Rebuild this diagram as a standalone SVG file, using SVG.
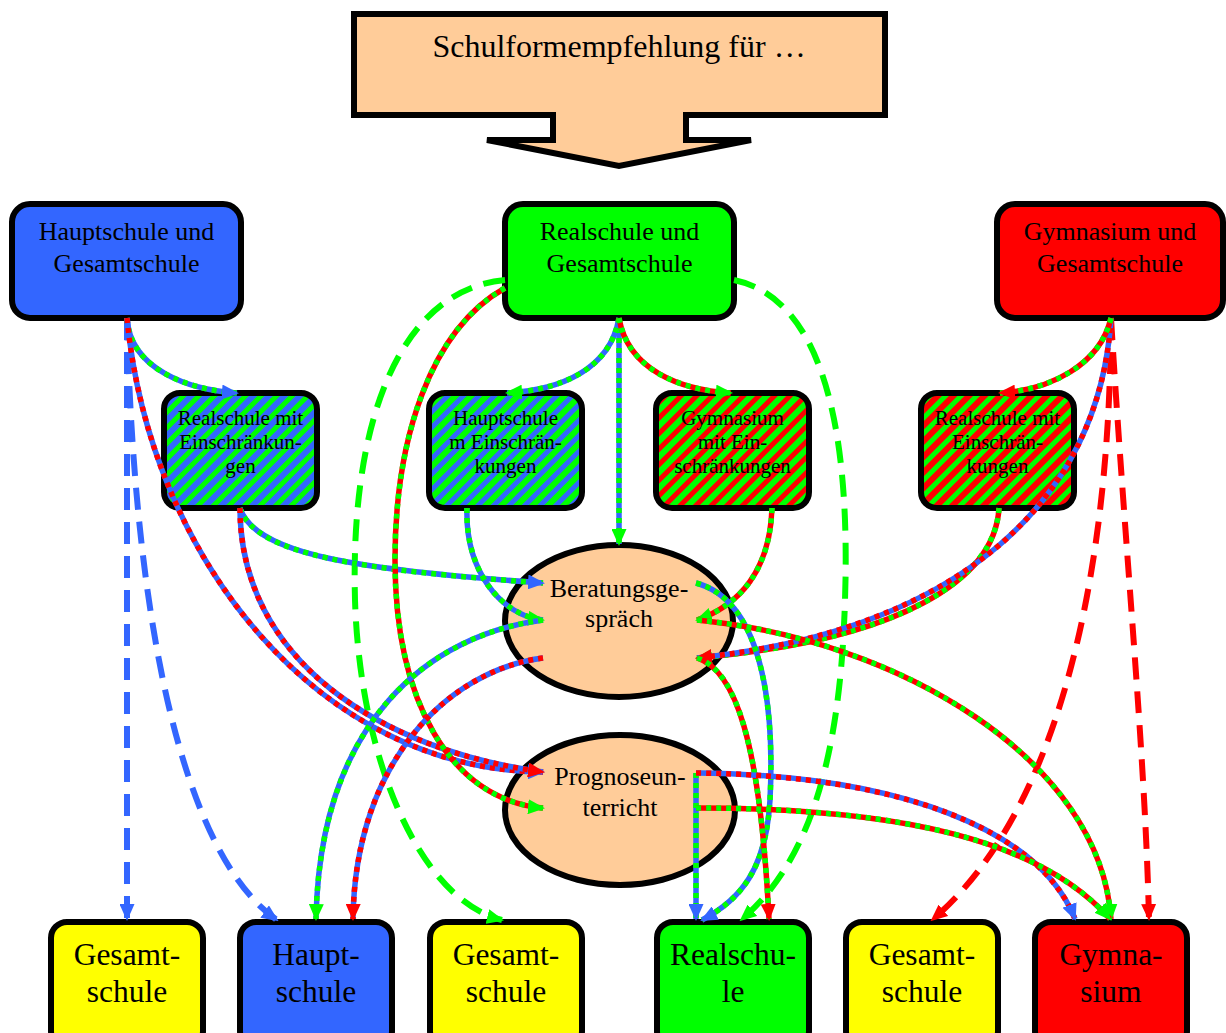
<svg xmlns="http://www.w3.org/2000/svg" width="1226" height="1033" viewBox="0 0 1226 1033">
<style>
.nd{stroke:#000;stroke-width:6}
text{font-family:"Liberation Serif","Times New Roman",serif;text-anchor:middle;fill:#000}
.t26{font-size:26px}
.t21{font-size:21px}
.t31{font-size:31.5px}
.tb{font-size:32px}
#connectors path{fill:none;stroke-width:5.5;stroke-linecap:butt}
#connectors .dsh{stroke-width:6;stroke-dasharray:22 12}
#connectors .ov{stroke-dasharray:5 5}
.sB{stroke:#3366FF}
.sG{stroke:#00FF00}
.sR{stroke:#FF0000}
.mB{marker-end:url(#aB)}
.mG{marker-end:url(#aG)}
.mR{marker-end:url(#aR)}
</style>
<defs>
<marker id="aB" markerUnits="userSpaceOnUse" markerWidth="17" markerHeight="15" refX="15" refY="7.5" orient="auto"><path d="M0,0 L17,7.5 L0,15 Z" fill="#3366FF"/></marker>
<marker id="aG" markerUnits="userSpaceOnUse" markerWidth="17" markerHeight="15" refX="15" refY="7.5" orient="auto"><path d="M0,0 L17,7.5 L0,15 Z" fill="#00FF00"/></marker>
<marker id="aR" markerUnits="userSpaceOnUse" markerWidth="17" markerHeight="15" refX="15" refY="7.5" orient="auto"><path d="M0,0 L17,7.5 L0,15 Z" fill="#FF0000"/></marker>
<pattern id="hBG" width="11" height="11" patternUnits="userSpaceOnUse" patternTransform="rotate(45)"><rect width="11" height="11" fill="#3366FF"/><rect width="5" height="11" fill="#00FF00"/></pattern>
<pattern id="hGB" width="11" height="11" patternUnits="userSpaceOnUse" patternTransform="rotate(45)"><rect width="11" height="11" fill="#00FF00"/><rect width="5" height="11" fill="#3366FF"/></pattern>
<pattern id="hGR" width="11" height="11" patternUnits="userSpaceOnUse" patternTransform="rotate(45)"><rect width="11" height="11" fill="#00FF00"/><rect width="5" height="11" fill="#FF0000"/></pattern>
<pattern id="hRG" width="11" height="11" patternUnits="userSpaceOnUse" patternTransform="rotate(45)"><rect width="11" height="11" fill="#FF0000"/><rect width="5" height="11" fill="#00FF00"/></pattern>
</defs>

<g id="title">
<path class="nd" d="M354,14 H885 V115 H686 V140 H751 L619,166 L487,140 H553 V115 H354 Z" fill="#FFCC99"/>
<text class="tb" x="619" y="57">Schulformempfehlung für …</text>
</g>

<g id="n-hg"><rect class="nd" x="12" y="204" width="229" height="114" rx="18" fill="#3366FF"/><text class="t26" x="126.5" y="240">Hauptschule und</text><text class="t26" x="126.5" y="272">Gesamtschule</text></g>
<g id="n-rg"><rect class="nd" x="505" y="204" width="229" height="114" rx="18" fill="#00FF00"/><text class="t26" x="619.5" y="240">Realschule und</text><text class="t26" x="619.5" y="272">Gesamtschule</text></g>
<g id="n-gg"><rect class="nd" x="997" y="204" width="226" height="114" rx="18" fill="#FF0000"/><text class="t26" x="1110" y="240">Gymnasium und</text><text class="t26" x="1110" y="272">Gesamtschule</text></g>

<g id="n-rme1"><rect class="nd" x="164" y="393" width="153" height="115" rx="16" fill="url(#hBG)"/><text class="t21" x="240.5" y="425">Realschule mit</text><text class="t21" x="240.5" y="449">Einschränkun-</text><text class="t21" x="240.5" y="473">gen</text></g>
<g id="n-hme"><rect class="nd" x="429" y="393" width="153" height="115" rx="16" fill="url(#hGB)"/><text class="t21" x="505.5" y="425">Hauptschule</text><text class="t21" x="505.5" y="449">m Einschrän-</text><text class="t21" x="505.5" y="473">kungen</text></g>
<g id="n-gme"><rect class="nd" x="656" y="393" width="153" height="115" rx="16" fill="url(#hGR)"/><text class="t21" x="732.5" y="425">Gymnasium</text><text class="t21" x="732.5" y="449">mit Ein-</text><text class="t21" x="732.5" y="473">schränkungen</text></g>
<g id="n-rme2"><rect class="nd" x="921" y="393" width="153" height="115" rx="16" fill="url(#hRG)"/><text class="t21" x="997.5" y="425">Realschule mit</text><text class="t21" x="997.5" y="449">Einschrän-</text><text class="t21" x="997.5" y="473">kungen</text></g>

<g id="n-beratung"><ellipse class="nd" cx="619" cy="621" rx="114" ry="76" fill="#FFCC99"/><text class="t26" x="619" y="597">Beratungsge-</text><text class="t26" x="619" y="627">spräch</text></g>
<g id="n-prognose"><ellipse class="nd" cx="620" cy="810" rx="115" ry="75" fill="#FFCC99"/><text class="t26" x="620" y="785">Prognoseun-</text><text class="t26" x="620" y="816">terricht</text></g>

<g id="n-ges1"><rect class="nd" x="51" y="922" width="152" height="125" rx="16" fill="#FFFF00"/><text class="t31" x="127" y="965">Gesamt-</text><text class="t31" x="127" y="1002">schule</text></g>
<g id="n-haupt"><rect class="nd" x="240" y="922" width="152" height="125" rx="16" fill="#3366FF"/><text class="t31" x="316" y="965">Haupt-</text><text class="t31" x="316" y="1002">schule</text></g>
<g id="n-ges2"><rect class="nd" x="430" y="922" width="152" height="125" rx="16" fill="#FFFF00"/><text class="t31" x="506" y="965">Gesamt-</text><text class="t31" x="506" y="1002">schule</text></g>
<g id="n-real"><rect class="nd" x="657" y="922" width="152" height="125" rx="16" fill="#00FF00"/><text class="t31" x="733" y="965">Realschu-</text><text class="t31" x="733" y="1002">le</text></g>
<g id="n-ges3"><rect class="nd" x="846" y="922" width="152" height="125" rx="16" fill="#FFFF00"/><text class="t31" x="922" y="965">Gesamt-</text><text class="t31" x="922" y="1002">schule</text></g>
<g id="n-gym"><rect class="nd" x="1035" y="922" width="152" height="125" rx="16" fill="#FF0000"/><text class="t31" x="1111" y="965">Gymna-</text><text class="t31" x="1111" y="1002">sium</text></g>

<g id="connectors">
<path class="dsh sB mB" d="M127,318 V919"/>
<path class="dsh sB mB" d="M127,318 C135,650 190,860 277,920"/>
<path class="dsh sG mG" d="M505,280 C400,290 350,420 355,600 C360,760 420,900 502,920"/>
<path class="dsh sG mG" d="M734,280 C830,300 850,450 845,600 C840,780 800,870 741,920"/>
<path class="dsh sR mR" d="M1111,318 C1110,600 1050,820 932,920"/>
<path class="dsh sR mR" d="M1111,318 C1125,550 1145,750 1149,919"/>

<path class="sB" d="M127,318 C130,370 190,390 237,393"/><path class="sG ov mB" d="M127,318 C130,370 190,390 237,393"/>
<path class="sB" d="M127,318 C150,560 320,770 543,772"/><path class="sR ov mB" d="M127,318 C150,560 320,770 543,772"/>
<path class="sB" d="M240,508 C255,555 360,570 543,583"/><path class="sG ov mB" d="M240,508 C255,555 360,570 543,583"/>
<path class="sB" d="M240,508 C240,660 380,750 543,772"/><path class="sR ov mR" d="M240,508 C240,660 380,750 543,772"/>

<path class="sB" d="M619,318 V544"/><path class="sG ov mG" d="M619,318 V544"/>
<path class="sB" d="M619,318 C610,370 560,390 507,393"/><path class="sG ov mG" d="M619,318 C610,370 560,390 507,393"/>
<path class="sR" d="M619,318 C628,370 680,390 731,393"/><path class="sG ov mG" d="M619,318 C628,370 680,390 731,393"/>
<path class="sR" d="M505,288 C430,330 395,440 395,560 C395,700 450,800 543,808"/><path class="sG ov mG" d="M505,288 C430,330 395,440 395,560 C395,700 450,800 543,808"/>

<path class="sB" d="M467,508 C465,570 500,615 543,620"/><path class="sG ov mG" d="M467,508 C465,570 500,615 543,620"/>
<path class="sR" d="M772,508 C770,570 740,605 697,620"/><path class="sG ov mG" d="M772,508 C770,570 740,605 697,620"/>
<path class="sR" d="M999,508 C995,580 900,640 697,658"/><path class="sG ov mG" d="M999,508 C995,580 900,640 697,658"/>
<path class="sB" d="M1111,318 C1100,500 960,630 697,658"/><path class="sR ov mR" d="M1111,318 C1100,500 960,630 697,658"/>
<path class="sR" d="M1111,318 C1100,365 1050,390 1000,393"/><path class="sG ov mR" d="M1111,318 C1100,365 1050,390 1000,393"/>

<path class="sB" d="M543,620 C430,635 320,720 316,919"/><path class="sG ov mG" d="M543,620 C430,635 320,720 316,919"/>
<path class="sB" d="M543,658 C450,670 355,760 353,919"/><path class="sR ov mR" d="M543,658 C450,670 355,760 353,919"/>
<path class="sB" d="M696,583 C760,600 775,700 770,800 C766,870 740,900 702,920"/><path class="sG ov mB" d="M696,583 C760,600 775,700 770,800 C766,870 740,900 702,920"/>
<path class="sR" d="M697,658 C735,670 760,740 769,919"/><path class="sG ov mR" d="M697,658 C735,670 760,740 769,919"/>
<path class="sR" d="M697,620 C900,640 1100,760 1111,919"/><path class="sG ov mG" d="M697,620 C900,640 1100,760 1111,919"/>

<path class="sB" d="M696,773 V919"/><path class="sG ov mB" d="M696,773 V919"/>
<path class="sB" d="M696,773 C900,775 1040,830 1075,919"/><path class="sR ov mB" d="M696,773 C900,775 1040,830 1075,919"/>
<path class="sR" d="M696,808 C900,808 1040,840 1110,919"/><path class="sG ov mG" d="M696,808 C900,808 1040,840 1110,919"/>
</g>
</svg>
